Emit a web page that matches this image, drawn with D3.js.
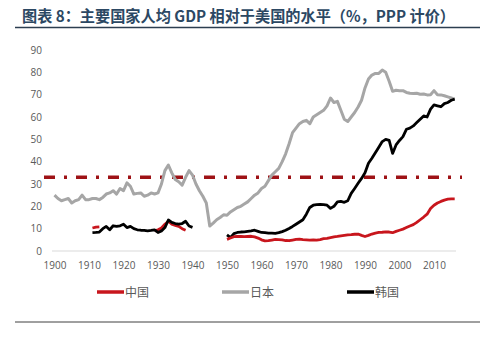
<!DOCTYPE html>
<html><head><meta charset="utf-8">
<script src="https://cdn.jsdelivr.net/npm/d3@7"></script>
<style>body{margin:0;background:#fff}svg{display:block}</style>
</head><body><svg id="c" width="504" height="344"></svg>
<script>
const titleText = "图表 8：主要国家人均 GDP 相对于美国的水平（%，PPP 计价）";
const seriesNames = ["中国", "日本", "韩国"];
const xTicks = [1900,1910,1920,1930,1940,1950,1960,1970,1980,1990,2000,2010];
const yTicks = [0,10,20,30,40,50,60,70,80,90];
const refLevel = 33;

const japanYears = d3.range(1900, 2017);
const japanValues = [25,23.5,22.5,23,23.5,21.5,22.5,23,25,23,23,23.5,23.5,23,24,25.5,26,27,25.5,28,27,30.5,29,25.5,25.8,26,24.5,25,26,25.5,26,30,36,38.5,35,32,31,29.5,33,36,34,30,27,24.5,21.5,11.2,12.5,14,15,16.2,16,17.5,18.5,19.5,20,21,22,23.5,25,26,28,29,31.5,34,35.5,37,40,43.5,48,53,55,57,58,58.5,57,60,61,62,63,65,68.5,66.5,67,63,59,58,60,62,64.5,67.5,73,77,78.8,79.5,79.5,81,80,76,71.5,72,71.8,71.8,71,70.6,70.5,70.6,70.2,70.3,69.9,70,71.8,70,69.9,69.5,69,68.5,68];

const koreaYears1 = d3.range(1911, 1941);
const koreaValues1 = [8.2,8.3,8.5,10,11,9.5,11.3,11,11.3,12,10.5,11,10,9.5,9.3,9.2,9,9.2,9.5,8.3,9,10.5,13.9,12.8,12.3,12,12.3,13.3,11.2,10.6];
const koreaYears2 = d3.range(1950, 2017);
const koreaValues2 = [7.2,6,7.8,8.3,8.5,8.6,8.8,9,9.3,8.8,8.3,8.2,8,8,7.9,8.2,8.7,9.3,10.1,11,12,13,14,16.5,19.5,20.5,20.8,20.9,20.8,20.5,19.1,20,22,22.2,21.8,22.5,25.8,28,30.3,32.5,35,39.3,41.5,44,46.5,49,50,49.5,43.7,47.5,49.5,51.2,54.5,55,56,57.5,59,60.5,60,63.5,65.4,65,64.6,66,66.5,67.5,68];

const chinaYears1 = [1911,1912,1913];
const chinaValues1 = [10.3,10.7,10.8];
const chinaYears2 = d3.range(1929, 1939);
const chinaValues2 = [9,9.5,10.3,12,13.3,12,11.5,11,10,9.3];
const chinaYears3 = d3.range(1950, 2017);
const chinaValues3 = [5.2,5.8,6.4,6.5,6.5,6.4,6.5,6.6,6.3,5.8,5,4.5,4.6,4.9,5.2,5.1,5,4.7,4.6,4.9,5.2,5.3,5.1,5,4.9,5,4.9,5.1,5.5,5.7,6,6.3,6.5,6.8,7,7.2,7.3,7.5,7.6,7,6.5,7,7.6,8,8.3,8.4,8.6,8.5,8.2,8.8,9.3,9.8,10.5,11.2,11.8,12.8,14,15.2,16.5,19,20.5,21.5,22.2,22.8,23.2,23.3,23.3];

const colors = {china:"#c8161d", japan:"#a6a6a6", korea:"#000000", ref:"#9e1216"};

const svg = d3.select("#c");
const x = d3.scaleLinear().domain([1900, 2010]).range([54.5, 434]);
const y = d3.scaleLinear().domain([0, 90]).range([251, 50]);
const font = "'Noto Sans CJK SC','Noto Sans',sans-serif";

// title
svg.append("text").attr("x", 22).attr("y", 22).attr("font-family", font)
  .attr("font-size", 15.5).attr("font-weight", 700).attr("fill", "#2c4863")
  .attr("textLength", 433).attr("lengthAdjust", "spacingAndGlyphs").text(titleText);
svg.append("line").attr("x1", 15).attr("x2", 480).attr("y1", 27.5).attr("y2", 27.5)
  .attr("stroke", "#2c3e50").attr("stroke-width", 1.6);
svg.append("line").attr("x1", 15).attr("x2", 480).attr("y1", 322).attr("y2", 322)
  .attr("stroke", "#404040").attr("stroke-width", 1);

// axes
svg.append("line").attr("x1", 52).attr("x2", 456).attr("y1", y(0)).attr("y2", y(0))
  .attr("stroke", "#d9d9d9").attr("stroke-width", 1);
const xa = svg.append("g").attr("transform", `translate(0,${y(0)})`)
  .call(d3.axisBottom(x).tickValues(xTicks).tickFormat(d3.format("d")).tickSize(0).tickPadding(11));
xa.select(".domain").remove();
xa.selectAll("text").attr("font-family", "'Open Sans',sans-serif").attr("font-size", 10).attr("fill", "#595959");
const ya = svg.append("g").attr("transform", `translate(42,0)`)
  .call(d3.axisLeft(y).tickValues(yTicks).tickSize(0).tickPadding(0));
ya.select(".domain").remove();
ya.selectAll("text").attr("font-family", "'Open Sans',sans-serif").attr("font-size", 10).attr("fill", "#595959");

// reference line
svg.append("line").attr("x1", 44).attr("x2", 462).attr("y1", y(refLevel)).attr("y2", y(refLevel))
  .attr("stroke", colors.ref).attr("stroke-width", 3.5).attr("stroke-dasharray", "11,9,3,9");

const line = d3.line().x(d => x(d[0])).y(d => y(d[1])).curve(d3.curveLinear);
function draw(years, vals, color, w) {
  svg.append("path").datum(d3.zip(years, vals)).attr("d", line)
    .attr("fill", "none").attr("stroke", color).attr("stroke-width", w)
    .attr("stroke-linejoin", "round").attr("stroke-linecap", "butt");
}
draw(japanYears, japanValues, colors.japan, 3);
draw(chinaYears1, chinaValues1, colors.china, 2.8);
draw(chinaYears2, chinaValues2, colors.china, 2.8);
draw(koreaYears1, koreaValues1, colors.korea, 2.8);
draw(koreaYears2, koreaValues2, colors.korea, 2.8);
draw(chinaYears3, chinaValues3, colors.china, 2.8);

// legend
const legX = [97, 222, 347];
const legColors = [colors.china, colors.japan, colors.korea];
seriesNames.forEach((n, i) => {
  svg.append("line").attr("x1", legX[i]).attr("x2", legX[i] + 27).attr("y1", 292).attr("y2", 292)
    .attr("stroke", legColors[i]).attr("stroke-width", 3.5);
  svg.append("text").attr("x", legX[i] + 28).attr("y", 296.5).attr("font-family", font)
    .attr("font-size", 12).attr("fill", "#595959").text(n);
});
</script></body></html>
